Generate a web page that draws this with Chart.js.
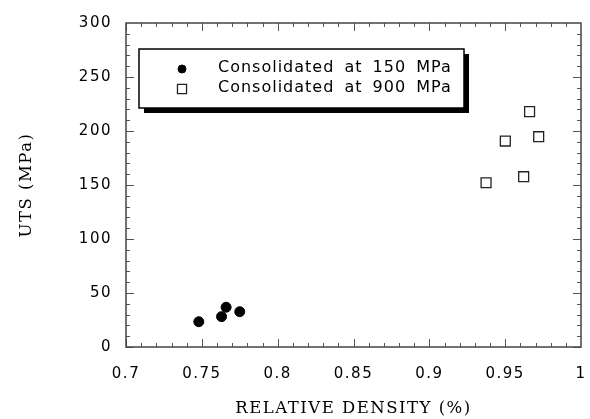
<!DOCTYPE html>
<html><head><meta charset="utf-8">
<script src="https://cdn.jsdelivr.net/npm/chart.js@4"></script>
<style>html,body{margin:0;padding:0;background:#fff}#wrap{width:590px;height:419px}</style>
</head><body><div id="wrap"><canvas id="c" width="590" height="419"></canvas></div>
<script>
const seriesLabels = ['Consolidated at 150 MPa', 'Consolidated at 900 MPa'];
const density150 = [0.748, 0.763, 0.766, 0.775];
const uts150 = [23.4, 28.1, 36.8, 32.7];
const density900 = [0.9374, 0.9501, 0.9622, 0.9661, 0.9721];
const uts900 = [152.1, 190.7, 157.7, 217.9, 194.7];
const xTicks = [0.7, 0.75, 0.8, 0.85, 0.9, 0.95, 1];
const xTickLabels = ['0.7', '0.75', '0.8', '0.85', '0.9', '0.95', '1'];
const yTicks = [0, 50, 100, 150, 200, 250, 300];
const yTickLabels = ['0', '50', '100', '150', '200', '250', '300'];
const minorPerMajor = 5;
const xTitle = 'RELATIVE DENSITY (%)';
const yTitle = 'UTS (MPa)';

const toPts = (xs, ys) => xs.map((v, i) => ({x: v, y: ys[i]}));

const frame = {
  id: 'frame',
  beforeDraw(chart) { chart.ctx.letterSpacing = '1.5px'; },
  afterDraw(chart) {
    const {ctx, chartArea: a, scales: {x, y}} = chart;
    ctx.save();
    ctx.letterSpacing = '0px';
    // minor/major inward ticks on all four sides
    ctx.strokeStyle = '#555'; ctx.lineWidth = 1;
    ctx.beginPath();
    for (let i = 0; i < xTicks.length - 1; i++) {
      for (let k = 0; k < minorPerMajor; k++) {
        const v = xTicks[i] + (xTicks[i + 1] - xTicks[i]) * k / minorPerMajor;
        const px = Math.round(x.getPixelForValue(v)) + 0.5;
        const len = k === 0 ? 8 : 4;
        ctx.moveTo(px, a.bottom); ctx.lineTo(px, a.bottom - len);
        ctx.moveTo(px, a.top); ctx.lineTo(px, a.top + len);
      }
    }
    for (let i = 0; i < yTicks.length - 1; i++) {
      for (let k = 0; k < minorPerMajor; k++) {
        const v = yTicks[i] + (yTicks[i + 1] - yTicks[i]) * k / minorPerMajor;
        const py = Math.round(y.getPixelForValue(v)) + 0.5;
        const len = k === 0 ? 8 : 4;
        ctx.moveTo(a.left, py); ctx.lineTo(a.left + len, py);
        ctx.moveTo(a.right, py); ctx.lineTo(a.right - len, py);
      }
    }
    ctx.stroke();
    // frame
    ctx.strokeStyle = '#444'; ctx.lineWidth = 1.5;
    ctx.strokeRect(a.left, a.top, a.right - a.left, a.bottom - a.top);

    // legend box with drop shadow
    const lx = a.left + 13, ly = a.top + 26, lw = 325, lh = 59;
    ctx.fillStyle = '#000';
    ctx.fillRect(lx + 5, ly + 5, lw, lh);
    ctx.fillStyle = '#fff';
    ctx.fillRect(lx, ly, lw, lh);
    ctx.strokeStyle = '#000'; ctx.lineWidth = 1.5;
    ctx.strokeRect(lx, ly, lw, lh);

    const legendRadius = [4, 6.4];
    chart.data.datasets.forEach((ds, i) => {
      const sy = ly + 20 + i * 20;
      ctx.fillStyle = ds.backgroundColor;
      ctx.strokeStyle = ds.borderColor;
      ctx.lineWidth = ds.borderWidth;
      Chart.helpers.drawPoint(ctx, {pointStyle: ds.pointStyle, radius: legendRadius[i], borderWidth: ds.borderWidth, rotation: 0}, lx + 43, sy);
      ctx.fillStyle = '#000';
      ctx.font = '16px "DejaVu Sans"';
      ctx.letterSpacing = '1px';
      ctx.wordSpacing = '4px';
      ctx.textBaseline = 'middle';
      ctx.textAlign = 'left';
      ctx.fillText(ds.label, lx + 79, sy - 1.5);
    });
    ctx.restore();
  }
};

new Chart(document.getElementById('c'), {
  type: 'scatter',
  data: {
    datasets: [
      {label: seriesLabels[0], data: toPts(density150, uts150), pointStyle: 'circle', pointRadius: 5,
       backgroundColor: '#000', borderColor: '#000', borderWidth: 1},
      {label: seriesLabels[1], data: toPts(density900, uts900), pointStyle: 'rect', pointRadius: 7,
       backgroundColor: '#fff', borderColor: '#222', borderWidth: 1.3}
    ]
  },
  options: {
    responsive: false,
    animation: false,
    devicePixelRatio: 1,
    layout: {padding: {top: 23, right: 9, left: 0, bottom: 0}},
    plugins: {legend: {display: false}, tooltip: {enabled: false}},
    scales: {
      x: {
        type: 'linear', min: 0.7, max: 1,
        afterBuildTicks: s => { s.ticks = xTicks.map(v => ({value: v})); },
        afterFit: s => { s.height = 72; s.paddingLeft = 0; s.paddingRight = 0; },
        grid: {display: false, drawTicks: false}, border: {display: false},
        ticks: {color: '#000', padding: 18, font: {family: '"DejaVu Sans"', size: 15},
                maxRotation: 0, autoSkip: false,
                callback: (v, i) => xTickLabels[i]},
        title: {display: true, text: xTitle, color: '#000',
                font: {family: '"DejaVu Serif"', size: 16.5}, padding: {top: 1, bottom: 0}}
      },
      y: {
        type: 'linear', min: 0, max: 300,
        afterBuildTicks: s => { s.ticks = yTicks.map(v => ({value: v})); },
        afterFit: s => { s.width = 126; s.paddingTop = 0; s.paddingBottom = 0; },
        grid: {display: false, drawTicks: false}, border: {display: false},
        ticks: {color: '#000', padding: 14, font: {family: '"DejaVu Sans"', size: 15},
                autoSkip: false, callback: (v, i) => yTickLabels[i]},
        title: {display: true, text: yTitle, color: '#000',
                font: {family: '"DejaVu Serif"', size: 16.5}, padding: {top: 17, bottom: 0}}
      }
    }
  },
  plugins: [frame]
});
</script></body></html>
